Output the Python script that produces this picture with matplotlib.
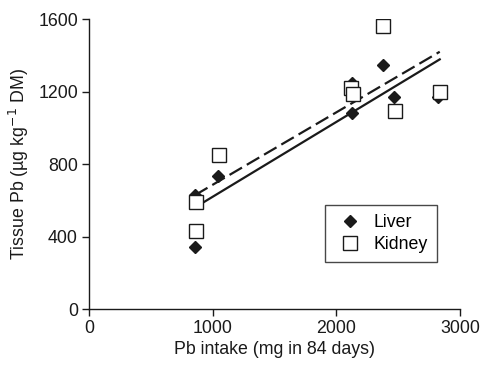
import matplotlib
matplotlib.use('Agg')
import matplotlib.pyplot as plt

plt.rcParams['font.family'] = ['Liberation Sans', 'DejaVu Sans']

# Data
liver_x = [857, 857, 1045, 2124, 2124, 2379, 2468, 2824]
liver_y = [344, 629, 734, 1249, 1083, 1346, 1171, 1171]
kidney_x = [865, 865, 1054, 2115, 2131, 2379, 2474, 2838]
kidney_y = [592, 432, 850, 1218, 1186, 1563, 1092, 1199]

# Regression line endpoints
fit_x = [857, 2835]
liver_fit = [561, 1378]
kidney_fit = [629, 1420]

xticks = [0, 1000, 2000, 3000]
yticks = [0, 400, 800, 1200, 1600]

fs = 12.8

fig = plt.figure(figsize=(4.89, 3.68), dpi=100)
ax = fig.add_axes([0.182, 0.160, 0.759, 0.788])

ax.plot(fit_x, liver_fit, color='#1a1a1a', lw=1.6, zorder=2)
ax.plot(fit_x, kidney_fit, color='#1a1a1a', lw=1.6, dashes=(6.5, 2.5), zorder=2)

ax.plot(liver_x, liver_y, 'D', ms=6.3, color='#1a1a1a', ls='none',
        label='Liver', zorder=3)
ax.plot(kidney_x, kidney_y, 's', ms=9.5, mfc='white', mec='#1a1a1a',
        mew=1.0, ls='none', label='Kidney', zorder=4)

ax.set_xlim(0, 3000)
ax.set_ylim(0, 1600)
ax.set_xticks(xticks)
ax.set_yticks(yticks)
ax.spines['top'].set_visible(False)
ax.spines['right'].set_visible(False)
for s in ['left', 'bottom']:
    ax.spines[s].set_linewidth(1.0)
    ax.spines[s].set_color('#1a1a1a')
ax.tick_params(direction='out', length=5, width=1.0, labelsize=fs,
               colors='#1a1a1a', pad=3)

ax.set_xlabel('Pb intake (mg in 84 days)', fontsize=fs, color='#1a1a1a',
              labelpad=3)
ax.set_ylabel('Tissue Pb (µg kg$^{-1}$ DM)', fontsize=fs, color='#1a1a1a',
              labelpad=5)

leg = ax.legend(loc='lower right', bbox_to_anchor=(0.938, 0.162),
                borderaxespad=0, fontsize=fs, frameon=True, fancybox=False,
                handletextpad=0.45, borderpad=0.5, labelspacing=0.3,
                handlelength=1.8)
leg.get_frame().set_edgecolor('#1a1a1a')
leg.get_frame().set_linewidth(1.0)

fig.savefig('out.png', dpi=100)
